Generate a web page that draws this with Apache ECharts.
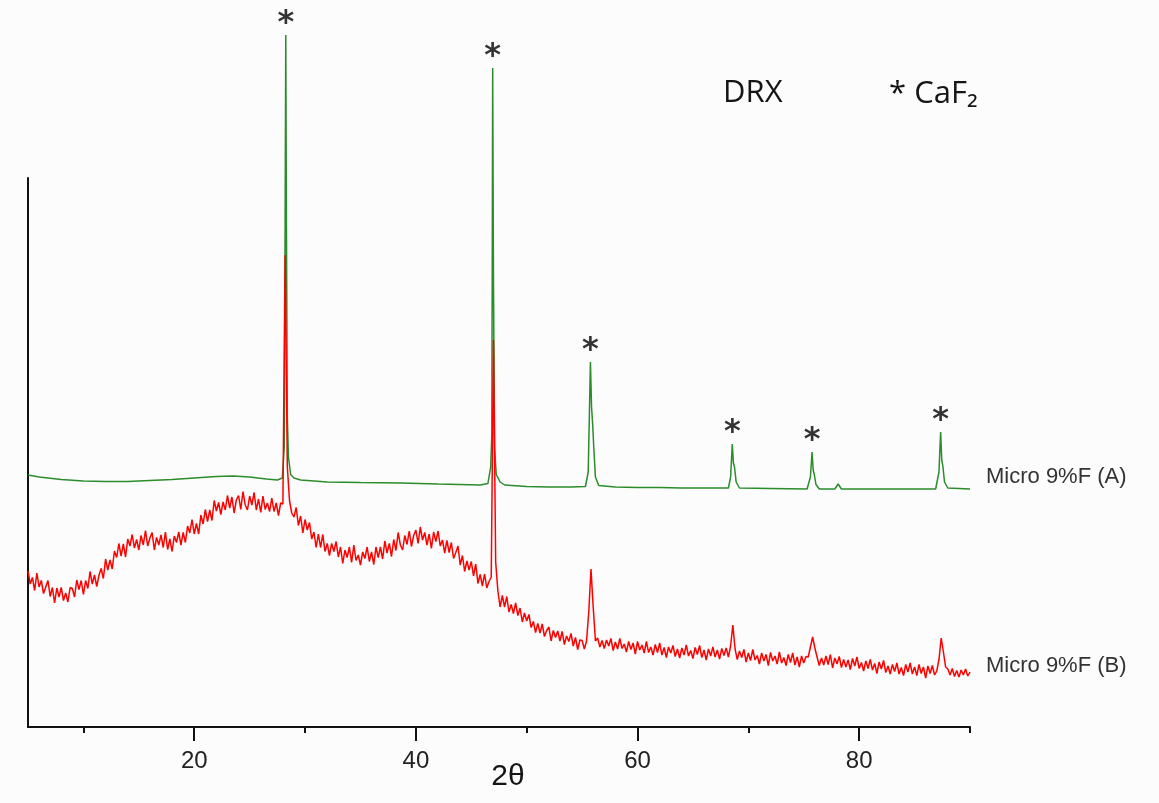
<!DOCTYPE html>
<html><head><meta charset="utf-8">
<script src="https://cdn.jsdelivr.net/npm/echarts@6/dist/echarts.min.js"></script>
<style>html,body{margin:0;padding:0;background:#fcfcfc}#c{width:1159px;height:803px}</style>
</head><body><div id="c"></div>
<script>
// ---- data (2θ in degrees, intensity in arbitrary units) ----
const xMin = 5, xMax = 90;
const tickMinor = [10, 30, 50, 70, 90];
const tickMajor = [20, 40, 60, 80];
const seriesNames = ['Micro 9%F (A)', 'Micro 9%F (B)'];

const greenX = [5,6,8,10,12,14,16,18,20,22,23.5,25,26.5,27.5,27.95,28.12,28.2,28.26,28.32,28.4,28.5,28.7,29,29.6,32,35,38.6,42,45.8,46.5,46.75,46.85,46.9,46.93,47.0,47.1,47.25,47.6,48,50,52,54,55.3,55.55,55.65,55.75,55.85,55.95,56.05,56.2,56.5,58,60,62,64,66,68.2,68.4,68.55,68.65,68.75,68.9,69.2,72,75.3,75.6,75.75,75.85,75.95,76.1,76.4,77.8,78.1,78.4,80,84,86.9,87.2,87.35,87.45,87.55,87.7,88,90];
const greenY = [504,500,495,492,491,491,493,495,498,501,502,500,496,494,498,560,1000,1384,1000,620,540,505,498,494,490,489,488,486,484,487,520,584,1000,1318,900,560,505,490,484,481,480,480,481,510,620,730,640,606,560,500,483,480,479,479,478,478,478,500,566,528,520,490,478,477,476,500,550,514,505,485,476,476,486,476,476,476,476,510,590,534,522,490,478,476];

// red pattern sampled every 0.2° from 5° to 90°
const redStart = 5, redStep = 0.2;
const redY = [
312,286,299,273,308,280,293,267,280,293,
261,279,248,278,260,279,253,268,250,279,
277,260,294,275,293,265,293,277,311,286,
304,281,303,317,297,336,314,334,316,352,
339,367,342,366,340,376,362,385,358,375,
354,383,364,393,362,378,389,354,379,364,
384,359,390,355,376,351,382,369,390,364,
389,369,402,388,415,386,407,386,424,406,
435,411,434,413,453,432,449,425,450,434,
463,438,460,428,454,463,435,471,444,434,
462,444,469,434,456,429,462,435,448,431,
458,431,448,423,448,446,944,520,452,428,
420,439,403,422,388,415,394,409,376,390,
359,386,359,385,351,367,343,367,351,371,
340,360,327,354,339,360,329,364,333,344,
324,350,337,360,331,350,325,360,339,360,
336,372,348,367,341,375,353,389,364,354,
383,365,392,361,383,394,367,400,374,389,
364,386,357,390,371,392,362,374,348,373,
349,369,337,349,362,324,343,311,332,314,
331,302,326,287,305,282,306,278,291,300,
774,330,272,240,263,240,261,230,245,227,
248,223,238,210,228,212,225,199,211,189,
207,188,206,181,193,200,172,193,179,192,
172,191,165,182,171,187,162,179,155,174,
173,156,172,230,316,240,172,178,160,173,
157,174,162,177,153,170,156,177,157,166,
150,171,155,168,146,171,154,164,148,171,
149,160,144,165,149,168,144,159,139,160,
148,163,141,156,138,158,144,164,142,153,
137,159,145,163,139,154,134,156,142,160,
140,154,136,157,143,158,140,162,204,156,
135,152,139,155,130,148,133,155,134,143,
126,148,132,145,123,149,132,142,126,150,
128,139,123,145,129,148,124,140,120,142,
128,141,140,160,180,158,140,123,138,124,
142,125,145,118,138,126,141,119,135,120,
134,115,137,122,140,117,129,112,132,117,
135,114,127,107,130,116,133,109,122,106,
125,111,128,106,119,103,125,110,128,106,
120,103,125,107,120,98,122,107,123,104,
112,135,178,150,120,116,104,117,101,113,
100,114,104,116,102,110
];

const starX = [28.26, 46.93, 55.75, 68.55, 75.75, 87.35];
const starY = [1384, 1318, 730, 566, 550, 590];

// ---- chart ----
const greenData = greenX.map((x, i) => [x, greenY[i]]);
const redData = redY.map((v, i) => [+(redStart + i * redStep).toFixed(2), v]);
const starData = starX.map((x, i) => [x, starY[i]]);

const axisColor = '#111';
const chart = echarts.init(document.getElementById('c'), null, {renderer: 'canvas'});
chart.setOption({
  animation: false,
  backgroundColor: '#fcfcfc',
  grid: {left: 28, right: 189, top: 178, bottom: 76},
  xAxis: [
    {
      type: 'value', min: xMin, max: xMax, position: 'bottom',
      axisLine: {show: true, lineStyle: {color: axisColor, width: 2}},
      axisTick: {show: true, customValues: tickMinor, length: 6, lineStyle: {color: axisColor, width: 2}},
      axisLabel: {show: false},
      splitLine: {show: false}
    },
    {
      type: 'value', min: xMin, max: xMax, position: 'bottom', offset: 0,
      axisLine: {show: false},
      axisTick: {show: true, customValues: tickMajor, length: 14, lineStyle: {color: axisColor, width: 2}},
      axisLabel: {show: true, customValues: tickMajor, fontSize: 24, color: '#222', fontFamily: 'Liberation Sans', margin: 22},
      splitLine: {show: false}
    }
  ],
  yAxis: {
    type: 'value', min: 0, max: 1098,
    axisLine: {show: true, lineStyle: {color: axisColor, width: 2}},
    axisTick: {show: false}, axisLabel: {show: false}, splitLine: {show: false}
  },
  series: [
    {
      name: seriesNames[0], type: 'line', data: greenData, xAxisIndex: 0,
      symbol: 'none', clip: false,
      lineStyle: {color: '#2a8c2a', width: 1.5},
      endLabel: {show: true, formatter: '{a}', color: '#333', fontSize: 22, fontFamily: 'Liberation Sans', distance: 16, offset: [0, -12]}
    },
    {
      name: seriesNames[1], type: 'line', data: redData, xAxisIndex: 0,
      symbol: 'none', clip: false,
      lineStyle: {color: '#ff0000', width: 1.5},
      endLabel: {show: true, formatter: '{a}', color: '#333', fontSize: 22, fontFamily: 'Liberation Sans', distance: 16, offset: [0, -6]}
    },
    {
      name: 'CaF2', type: 'scatter', data: starData, xAxisIndex: 0,
      symbol: 'circle', symbolSize: 2, itemStyle: {color: 'rgba(0,0,0,0)'}, clip: false, silent: true, z: 5,
      label: {show: true, formatter: '*', position: 'top', distance: -6, fontSize: 32, fontWeight: 'bold', color: '#000', fontFamily: 'DejaVu Sans'},
      labelLayout: {hideOverlap: false}
    }
  ],
  graphic: [
    {type: 'text', x: 723, y: 93, style: {text: 'DRX', fontSize: 31, fontFamily: 'Open Sans', fill: '#151515', textVerticalAlign: 'middle'}},
    {type: 'text', x: 889, y: 94, style: {text: '* CaF₂', fontSize: 31, fontFamily: 'Open Sans', fill: '#151515', textVerticalAlign: 'middle'}},
    {type: 'text', x: 508, y: 777, style: {text: '2θ', fontSize: 30, fontFamily: 'Liberation Sans', fill: '#151515', textAlign: 'center', textVerticalAlign: 'middle'}}
  ]
});
</script>
</body></html>
